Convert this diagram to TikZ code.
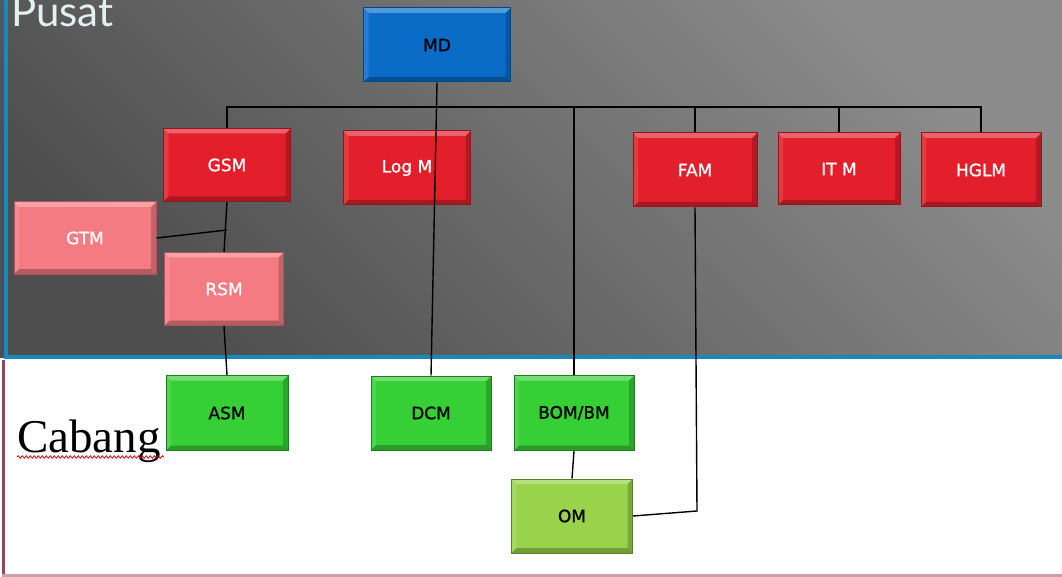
\documentclass[tikz,border=0pt]{standalone}
\usepackage{fontspec}
\usepackage{tikz}
\usetikzlibrary{decorations.pathmorphing}
\newfontfamily\boxfont[FakeBold=1]{DejaVu Sans}
\newfontfamily\titlefont{Lato}
\newfontfamily\cabangfont{Liberation Serif}

\definecolor{bgtop}{HTML}{8C8C8C}
\definecolor{bgbot}{HTML}{4E4E4E}
\definecolor{edgeblue}{HTML}{1A89BA}
\definecolor{edgered}{HTML}{8E4A5C}
\definecolor{edgepink}{HTML}{C7A2AE}
\definecolor{pusattext}{HTML}{E4F1F1}
\definecolor{mdblue}{HTML}{0A6CC6}
\definecolor{mgrred}{HTML}{E21F2B}
\definecolor{mgrpink}{HTML}{F47B82}
\definecolor{brgreen}{HTML}{36CF36}
\definecolor{omgreen}{HTML}{99D34C}

\tikzstyle{orgbox} = [rectangle, line width=1pt, minimum width=122pt, minimum height=74pt, inner sep=0pt,
	font=\boxfont\fontsize{17}{19}\selectfont,
	path picture={
		\fill[white, opacity=.3] (path picture bounding box.north west) -- (path picture bounding box.north east)
			-- ([shift={(-5pt,-5pt)}]path picture bounding box.north east) -- ([shift={(5pt,-5pt)}]path picture bounding box.north west) -- cycle;
		\fill[white, opacity=.12] (path picture bounding box.north west) -- (path picture bounding box.south west)
			-- ([shift={(5pt,5pt)}]path picture bounding box.south west) -- ([shift={(5pt,-5pt)}]path picture bounding box.north west) -- cycle;
		\fill[black, opacity=.25] (path picture bounding box.south west) -- (path picture bounding box.south east)
			-- ([shift={(-5pt,5pt)}]path picture bounding box.south east) -- ([shift={(5pt,5pt)}]path picture bounding box.south west) -- cycle;
		\fill[black, opacity=.2] (path picture bounding box.north east) -- (path picture bounding box.south east)
			-- ([shift={(-5pt,5pt)}]path picture bounding box.south east) -- ([shift={(-5pt,-5pt)}]path picture bounding box.north east) -- cycle;
	}]
\tikzstyle{bluebox} = [orgbox, fill=mdblue, draw=mdblue!65!black, text=black]
\tikzstyle{redbox} = [orgbox, fill=mgrred, draw=mgrred!65!black, text=white]
\tikzstyle{pinkbox} = [orgbox, fill=mgrpink, draw=mgrpink!70!black, text=white]
\tikzstyle{greenbox} = [orgbox, fill=brgreen, draw=brgreen!60!black, text=black]
\tikzstyle{ombox} = [orgbox, fill=omgreen, draw=omgreen!60!black, text=black]
\tikzstyle{link} = [draw, black, line width=1.4pt]

\begin{document}
\begin{tikzpicture}[x=1pt, y=-1pt]
			
			\useasboundingbox (0,0) rectangle (1062,577);
			
			\def\bus{107}
			
			\shade[top color=bgtop, bottom color=bgbot, shading angle=-45] (0,0) rectangle (1062,357);
			\fill[white] (0,359) rectangle (1062,577);
			\draw[edgeblue, line width=3.5pt] (6,0) -- (6,357) -- (1062,357);
			\draw[edgered, line width=3pt] (3,359.5) -- (3,575.5);
			\draw[edgepink, line width=3pt] (1.5,575.5) -- (1062,575.5);
			
			\node[anchor=base west, inner sep=0pt, text=pusattext, font=\titlefont\fontsize{42}{46}\selectfont] (pusat) at (11,27) {Pusat};
			\node[anchor=base west, inner sep=0pt, font=\cabangfont\fontsize{47}{52}\selectfont] (cabang) at (17,452) {Cabang};
			\draw[red!85!black, line width=0.8pt, decorate, decoration={snake, amplitude=1.2pt, segment length=4pt}]
				([yshift=-5pt]cabang.base west) -- ([yshift=-5pt, xshift=3pt]cabang.base east);
			
			\node[bluebox, minimum width=147pt] (MD) at (437,45) {MD};
			
			\node[redbox, minimum width=127pt, minimum height=73pt] (GSM) at (227,165) {GSM};
			\node[redbox, minimum width=127pt] (LogM) at (407,168) {Log M};
			\node[redbox, minimum width=124pt] (FAM) at (695,170) {FAM};
			\node[redbox, minimum height=72pt] (ITM) at (839,169) {IT M};
			\node[redbox, minimum width=120pt] (HGLM) at (981,170) {HGLM};
			
			\node[pinkbox, minimum width=142pt, minimum height=72pt] (GTM) at (85,238) {GTM};
			\node[pinkbox, minimum width=119pt, minimum height=73pt] (RSM) at (224,289) {RSM};
			
			\node[greenbox, minimum height=75pt] (ASM) at (227,413) {ASM};
			\node[greenbox, minimum width=120pt] (DCM) at (431,413) {DCM};
			\node[greenbox, minimum width=120pt, minimum height=75pt] (BOM) at (574,413) {BOM/BM};
			\node[ombox, minimum width=121pt] (OM) at (572,516) {OM};
			
			\coordinate (bus) at (0,\bus);
			\coordinate (gtmjoin) at (227,230);
			\coordinate (famturn) at (697,511);
			
			\draw[link] (GSM.north) |- (HGLM.north |- bus) -- (HGLM.north);
			\draw[link] (FAM.north) -- (FAM.north |- bus);
			\draw[link] (ITM.north) -- (ITM.north |- bus);
			\draw[link] (BOM.north) -- (BOM.north |- bus);
			\draw[link] (MD.south) -- (DCM.north);
			\draw[link] (GSM.south) -- (RSM.north);
			\draw[link] (GTM.east) -- (gtmjoin);
			\draw[link] (RSM.south) -- (ASM.north);
			\draw[link] (BOM.south) -- (OM.north);
			\draw[link] (FAM.south) -- (famturn) -- (OM.east);
			
\end{tikzpicture}
\end{document}
